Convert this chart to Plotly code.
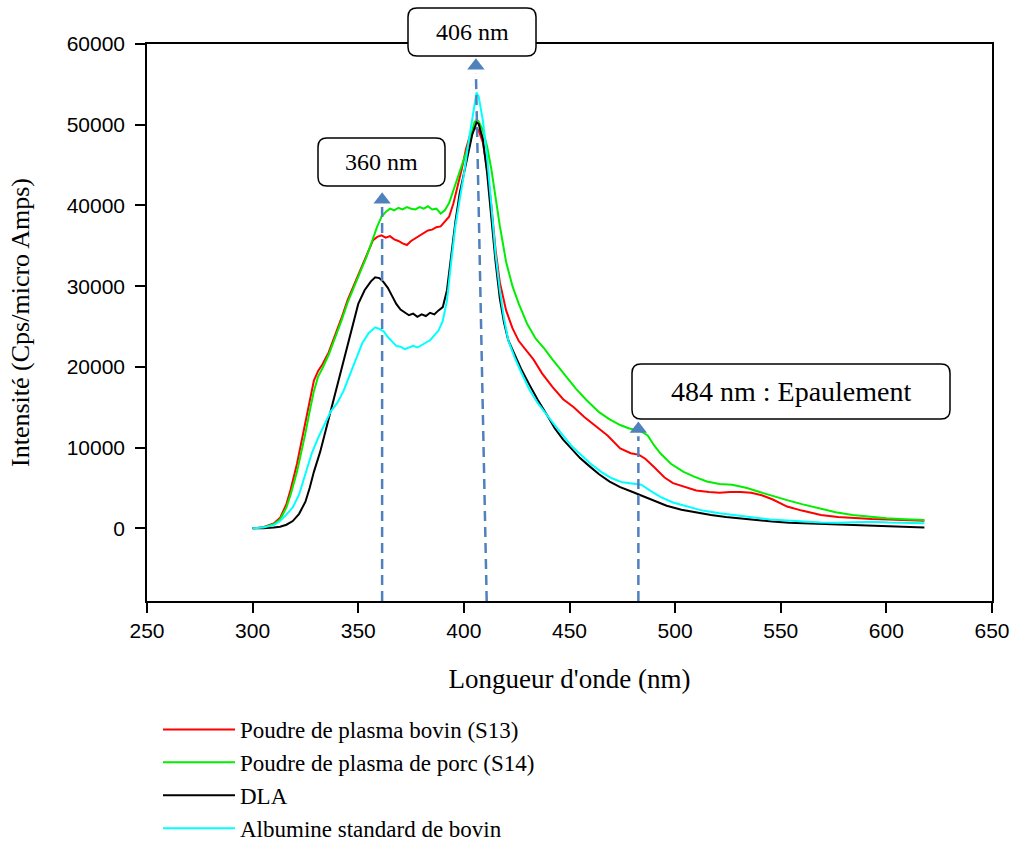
import plotly.graph_objects as go

# ---------------- data ----------------
wl_s13 = [300, 305, 310, 313, 316, 318, 321, 323, 325, 327, 329, 331, 333, 336, 339, 342, 345, 348, 351, 354, 357, 359, 361, 363, 365, 367, 369, 371, 373, 375, 377, 379, 381, 383, 385, 387, 389, 391, 393, 395, 397, 399, 401, 403, 405, 406, 407, 409, 411, 413, 415, 417, 420, 423, 426, 430, 433, 437, 442, 447, 452, 457, 463, 468, 474, 479, 483, 486, 490, 495, 499, 505, 510, 516, 521, 526, 531, 536, 541, 546, 553, 560, 569, 577, 585, 593, 601, 610, 618]
int_s13 = [0, 150, 600, 1300, 3000, 4800, 8000, 10500, 13000, 15800, 18300, 19500, 20300, 21800, 23800, 26000, 28300, 30200, 32000, 33800, 35700, 36100, 36300, 36000, 36200, 35800, 35600, 35300, 35100, 35600, 35900, 36300, 36600, 36900, 37000, 37300, 37400, 38000, 38600, 40200, 42300, 44500, 47000, 48800, 49500, 49600, 49300, 47800, 44500, 40000, 34500, 30500, 27000, 24800, 23200, 21800, 20900, 19200, 17500, 16000, 15000, 13800, 12600, 11500, 9900, 9300, 9100, 8600, 7600, 6300, 5600, 5100, 4700, 4500, 4400, 4500, 4500, 4400, 4100, 3600, 2700, 2200, 1650, 1400, 1240, 1150, 1100, 1000, 940]

wl_s14 = [300, 305, 310, 313, 316, 318, 321, 323, 325, 327, 329, 331, 333, 336, 339, 342, 345, 348, 351, 354, 357, 359, 361, 363, 365, 367, 369, 371, 373, 375, 377, 379, 381, 383, 385, 387, 389, 391, 393, 395, 397, 399, 401, 403, 405, 406, 407, 409, 411, 413, 415, 417, 420, 423, 426, 430, 434, 438, 442, 447, 453, 458, 464, 469, 474, 478, 481, 484, 487, 490, 493, 498, 504, 509, 515, 521, 527, 534, 540, 546, 553, 560, 568, 576, 584, 592, 600, 609, 618]
int_s14 = [0, 120, 500, 1100, 2600, 4200, 7000, 9300, 11800, 14500, 17000, 18800, 19800, 21500, 23500, 25700, 28000, 30000, 31800, 33700, 36000, 37400, 38600, 39200, 39600, 39400, 39700, 39500, 39800, 39600, 39500, 39800, 39600, 39900, 39500, 39600, 39000, 39400, 40300, 41800, 43500, 45000, 46500, 48300, 50300, 50600, 50400, 49300, 47300, 44500, 41000, 37500, 33000, 30000, 27800, 25300, 23500, 22300, 20900, 19200, 17300, 15900, 14400, 13500, 12800, 12400, 12200, 12000, 11500, 10300, 9300, 8000, 7000, 6400, 5800, 5500, 5400, 5000, 4500, 4000, 3500, 3000, 2500, 2000, 1650, 1400, 1240, 1120, 1030]

wl_dla = [300, 305, 310, 313, 316, 319, 322, 325, 327, 329, 332, 335, 338, 341, 344, 347, 350, 353, 356, 358, 360, 362, 364, 366, 368, 370, 372, 374, 376, 378, 380, 382, 384, 386, 388, 390, 392, 394, 396, 398, 400, 402, 404, 406, 407, 409, 411, 413, 415, 417, 419, 421, 424, 427, 431, 435, 439, 443, 447, 451, 455, 459, 464, 469, 474, 479, 484, 490, 496, 503, 510, 517, 524, 531, 538, 546, 554, 562, 570, 578, 586, 594, 602, 610, 618]
int_dla = [0, 0, 100, 200, 450, 900, 1800, 3300, 5000, 7000, 9500, 12500, 15800, 18500, 21500, 24800, 27800, 29500, 30600, 31100, 31000, 30500, 29800, 28800, 27800, 27100, 26700, 26400, 26600, 26200, 26500, 26300, 26700, 26500, 27000, 27400, 29500, 34000, 38000, 41500, 44000, 46300, 48800, 50300, 50100, 48200, 44000, 38500, 33000, 28500, 25500, 23300, 21500, 19800, 17800, 15900, 14200, 12400, 11000, 9900, 8700, 7800, 6700, 5800, 5100, 4600, 4100, 3500, 2800, 2300, 1950, 1650, 1400, 1200, 1000, 850, 700, 620, 530, 460, 400, 350, 280, 200, 120]

wl_bsa = [300, 305, 310, 313, 316, 319, 322, 325, 328, 331, 334, 337, 340, 343, 346, 349, 352, 355, 358, 360, 362, 364, 366, 368, 370, 372, 374, 376, 378, 380, 382, 384, 386, 388, 390, 392, 394, 396, 398, 400, 402, 404, 406, 407, 409, 411, 413, 415, 417, 419, 421, 424, 427, 431, 435, 439, 443, 447, 451, 455, 460, 465, 470, 475, 480, 484, 488, 493, 499, 506, 513, 521, 529, 537, 545, 553, 561, 569, 577, 585, 593, 601, 609, 618]
int_bsa = [0, 100, 400, 900, 1700, 2600, 4200, 6700, 9300, 11200, 12900, 14500, 15500, 17000, 19000, 21000, 23000, 24200, 24900, 24700, 24400, 23700, 23200, 22600, 22500, 22200, 22400, 22600, 22400, 22700, 22900, 23300, 23900, 24500, 25700, 28200, 33000, 37500, 40700, 43800, 47500, 51000, 54000, 53500, 50500, 46000, 40000, 34000, 29500, 26000, 23300, 21200, 19400, 17200, 15500, 14100, 12800, 11500, 10200, 9200, 8000, 7000, 6200, 5700, 5500, 5400, 4700, 3900, 3200, 2700, 2200, 1860, 1600, 1350, 1100, 980, 850, 720, 700, 760, 820, 720, 650, 620]

series_names = ["Poudre de plasma bovin (S13)", "Poudre de plasma de porc (S14)", "DLA", "Albumine standard de bovin"]
series_colors = ["#FF0000", "#00EE00", "#000000", "#00FFFF"]

# annotation markers (wavelength at arrow base, wavelength at arrow tip, tip intensity, label)
mark_base_nm = [361.3, 410.8, 482.6]
mark_tip_nm = [361.3, 405.7, 482.6]
mark_tip_val = [40700, 57300, 12300]
mark_labels = ["360 nm", "406 nm", "484 nm : Epaulement"]

x_ticks = [250, 300, 350, 400, 450, 500, 550, 600, 650]
y_ticks = [0, 10000, 20000, 30000, 40000, 50000, 60000]
x_range = [250, 650]
y_range = [-9000, 60000]

# ---------------- figure ----------------
W, H = 1013, 841
L, R, T, B = 147, 21, 44, 240
PW, PH = W - L - R, H - T - B

def px2paper(px, py):
    return (px - L) / PW, (H - B - py) / PH

fig = go.Figure()
all_x = [wl_s13, wl_s14, wl_dla, wl_bsa]
all_y = [int_s13, int_s14, int_dla, int_bsa]
for xs, ys, nm, col in zip(all_x, all_y, series_names, series_colors):
    fig.add_trace(go.Scatter(x=xs, y=ys, mode="lines", name=nm,
                             line=dict(color=col, width=2)))

arrow_col = "#4F81BD"
for xb, xt, yt in zip(mark_base_nm, mark_tip_nm, mark_tip_val):
    fig.add_trace(go.Scatter(x=[xb, xt], y=[y_range[0], yt - 900], mode="lines",
                             line=dict(color=arrow_col, width=2.5, dash="10px,6px"),
                             showlegend=False, hoverinfo="skip"))
fig.add_trace(go.Scatter(x=mark_tip_nm, y=mark_tip_val, mode="markers",
                         marker=dict(symbol="triangle-up", size=15, color=arrow_col),
                         showlegend=False, hoverinfo="skip"))

# rounded label boxes (pixel boxes converted to paper coords)
boxes = [(318, 138, 445, 186, 24), (408, 8, 536, 56, 24), (632, 364, 950, 419, 28)]
shapes = []
annotations = []
for (x0, y0, x1, y1, fs), lab in zip(boxes, mark_labels):
    r = 9
    def p(px, py):
        a, b = px2paper(px, py)
        return f"{a:.5f},{b:.5f}"
    path = (f"M {p(x0 + r, y0)} L {p(x1 - r, y0)} Q {p(x1, y0)} {p(x1, y0 + r)} "
            f"L {p(x1, y1 - r)} Q {p(x1, y1)} {p(x1 - r, y1)} "
            f"L {p(x0 + r, y1)} Q {p(x0, y1)} {p(x0, y1 - r)} "
            f"L {p(x0, y0 + r)} Q {p(x0, y0)} {p(x0 + r, y0)} Z")
    shapes.append(dict(type="path", xref="paper", yref="paper", path=path,
                       line=dict(color="#000000", width=1.5), fillcolor="white", layer="above"))
    cx, cy = px2paper((x0 + x1) / 2, (y0 + y1) / 2)
    annotations.append(dict(x=cx, y=cy, xref="paper", yref="paper", text=lab, showarrow=False,
                            xanchor="center", yanchor="middle",
                            font=dict(family="Liberation Serif", size=fs, color="#000000")))

fig.update_layout(
    width=W, height=H,
    margin=dict(l=L, r=R, t=T, b=B, pad=0, autoexpand=False),
    paper_bgcolor="white", plot_bgcolor="white",
    shapes=shapes, annotations=annotations,
    showlegend=True,
    legend=dict(x=px2paper(158, 0)[0], y=px2paper(0, 850)[1], xanchor="left", yanchor="bottom",
                bgcolor="rgba(0,0,0,0)", borderwidth=0, itemwidth=72,
                font=dict(family="Liberation Serif", size=23, color="#000000"),
                tracegroupgap=0),
    xaxis=dict(range=x_range, tickvals=x_ticks, showgrid=False, zeroline=False,
               showline=True, linecolor="#000000", linewidth=1.5, mirror=True,
               ticks="outside", ticklen=10, tickwidth=1.5, tickcolor="#000000",
               tickformat="d",
               tickfont=dict(family="Liberation Sans", size=21, color="#000000"),
               title=dict(text="Longueur d'onde (nm)", standoff=28,
                          font=dict(family="Liberation Serif", size=27, color="#000000"))),
    yaxis=dict(range=y_range, tickvals=y_ticks, showgrid=False, zeroline=False,
               showline=True, linecolor="#000000", linewidth=1.5, mirror=True,
               ticks="outside", ticklen=10, tickwidth=1.5, tickcolor="#000000",
               ticklabelstandoff=6, tickformat="d",
               tickfont=dict(family="Liberation Sans", size=21, color="#000000"),
               title=dict(text="Intensité (Cps/micro Amps)", standoff=30,
                          font=dict(family="Liberation Serif", size=26, color="#000000"))),
)

fig.write_html("out.html")
